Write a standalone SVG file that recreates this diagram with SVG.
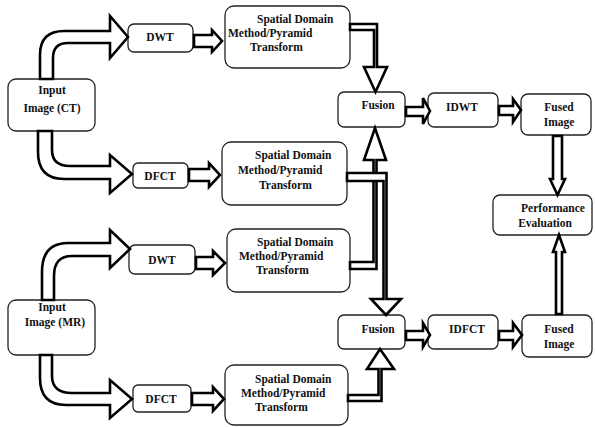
<svg xmlns="http://www.w3.org/2000/svg" width="595" height="427" viewBox="0 0 595 427">
<style>
.box{fill:#fff;stroke:#222;stroke-width:1.3}
.t{font-family:"Liberation Serif","Times New Roman",serif;font-weight:bold;font-size:11.5px;fill:#111}
.m{text-anchor:middle}
.a{fill:#fff;stroke:#000;stroke-width:2.6;stroke-linejoin:miter}
</style>
<rect width="595" height="427" fill="#fff"/>
<g id="nodes">
<g id="inCT"><rect class="box" x="8" y="79" width="87" height="52" rx="8"/><text class="t m" x="52" y="94">Input</text><text class="t m" x="52" y="112">Image (CT)</text></g>
<g id="dwt1"><rect class="box" x="128" y="24" width="65" height="28" rx="6"/><text class="t m" x="160" y="41">DWT</text></g>
<g id="sp1"><rect class="box" x="225" y="6" width="125" height="62" rx="9"/><text class="t" x="257" y="23">Spatial Domain</text><text class="t" x="228" y="37">Method/Pyramid</text><text class="t" x="250" y="51">Transform</text></g>
<g id="dfct1"><rect class="box" x="133" y="163" width="55" height="25" rx="5"/><text class="t m" x="160" y="180">DFCT</text></g>
<g id="sp2"><rect class="box" x="222" y="142" width="125" height="63" rx="9"/><text class="t" x="255" y="159">Spatial Domain</text><text class="t" x="238" y="174">Method/Pyramid</text><text class="t" x="259" y="189">Transform</text></g>
<g id="fus1"><rect class="box" x="338" y="92" width="67" height="35" rx="6"/><text class="t m" x="378" y="109">Fusion</text></g>
<g id="idwt"><rect class="box" x="428" y="93" width="70" height="34" rx="6"/><text class="t m" x="462" y="111">IDWT</text></g>
<g id="fused1"><rect class="box" x="521" y="94" width="70" height="41" rx="7"/><text class="t m" x="559" y="111">Fused</text><text class="t m" x="559" y="126">Image</text></g>
<g id="perf"><rect class="box" x="493" y="195" width="99" height="40" rx="7"/><text class="t m" x="553" y="212">Performance</text><text class="t m" x="545" y="227">Evaluation</text></g>
<g id="inMR"><rect class="box" x="8" y="300" width="87" height="55" rx="8"/><text class="t m" x="52" y="311">Input</text><text class="t m" x="55" y="326">Image (MR)</text></g>
<g id="dwt2"><rect class="box" x="129" y="245" width="66" height="29" rx="6"/><text class="t m" x="162" y="264">DWT</text></g>
<g id="sp3"><rect class="box" x="227" y="229" width="123" height="63" rx="9"/><text class="t" x="257" y="246">Spatial Domain</text><text class="t" x="239" y="260">Method/Pyramid</text><text class="t" x="256" y="274">Transform</text></g>
<g id="dfct2"><rect class="box" x="133" y="385" width="58" height="27" rx="5"/><text class="t m" x="161" y="403">DFCT</text></g>
<g id="sp4"><rect class="box" x="225" y="365" width="123" height="60" rx="9"/><text class="t" x="255" y="383">Spatial Domain</text><text class="t" x="241" y="397">Method/Pyramid</text><text class="t" x="255" y="411">Transform</text></g>
<g id="fus2"><rect class="box" x="338" y="315" width="67" height="34" rx="6"/><text class="t m" x="378" y="333">Fusion</text></g>
<g id="idfct"><rect class="box" x="428" y="315" width="70" height="34" rx="6"/><text class="t m" x="467" y="333">IDFCT</text></g>
<g id="fused2"><rect class="box" x="522" y="315" width="70" height="42" rx="7"/><text class="t m" x="559" y="333">Fused</text><text class="t m" x="559" y="348">Image</text></g>
</g>
<g id="connectors">
<path class="a" d="M40,79 L40,55 Q40,31 64,31 L110,31 L110,16 L128,37 L110,58 L110,43 L68,43 Q53,43 53,58 L53,79 Z"/>
<path class="a" d="M38,131 L38,152 Q38,179 64,179 L110,179 L110,193 L132,174 L110,155 L110,166 L70,166 Q52,166 52,150 L52,131 Z"/>
<path class="a" d="M42,300 L42,272 Q42,243 68,243 L110,243 L110,230 L130,249 L110,268 L110,256 L72,256 Q54,256 54,276 L54,300 Z"/>
<path class="a" d="M40,355 L40,378 Q40,405 66,405 L110,405 L110,418 L132,399 L110,380 L110,393 L72,393 Q52,393 52,376 L52,355 Z"/>
<path class="a" d="M194,35 L212,35 L212,30 L222,41 L212,52 L212,47 L194,47 Z"/>
<path class="a" d="M189,169 L209,169 L209,163 L220,175 L209,187 L209,181 L189,181 Z"/>
<path class="a" d="M196,257 L213,257 L213,251 L225,263 L213,275 L213,269 L196,269 Z"/>
<path class="a" d="M192,393 L213,393 L213,387 L224,399 L213,411 L213,405 L192,405 Z"/>
<path class="a" d="M406,107 L423,107 L423,98 L430,111 L423,124 L423,116 L406,116 Z"/>
<path class="a" d="M499,106 L513,106 L513,99 L521,110 L513,122 L513,115 L499,115 Z"/>
<path class="a" d="M406,331 L423,331 L423,323 L430,335 L423,347 L423,340 L406,340 Z"/>
<path class="a" d="M499,331 L513,331 L513,323 L522,335 L513,347 L513,340 L499,340 Z"/>
<path class="a" d="M553,136 L562,136 L562,179 L565,179 L557.5,195 L550,179 L553,179 Z"/>
<path class="a" d="M556,314 L556,252 L553,252 L559,235 L565,252 L562,252 L562,314 Z"/>
<path class="a" d="M350,262 L373.5,262 L373.5,160 L364,160 L375,128 L386,160 L376.5,160 L376.5,269 L350,269 Z"/>
<path class="a" d="M350,24 L377,24 L377,67 L387,67 L375.5,92 L364,67 L374,67 L374,30 L350,30 Z"/>
<path class="a" d="M347,173 L386.5,173 L386.5,299 L401,299 L386,315 L371,299 L383.5,299 L383.5,181 L347,181 Z"/>
<path class="a" d="M348,395 L378.5,395 L378.5,369 L367,369 L380,349 L394,369 L381.5,369 L381.5,401 L348,401 Z"/>
</g>
</svg>
